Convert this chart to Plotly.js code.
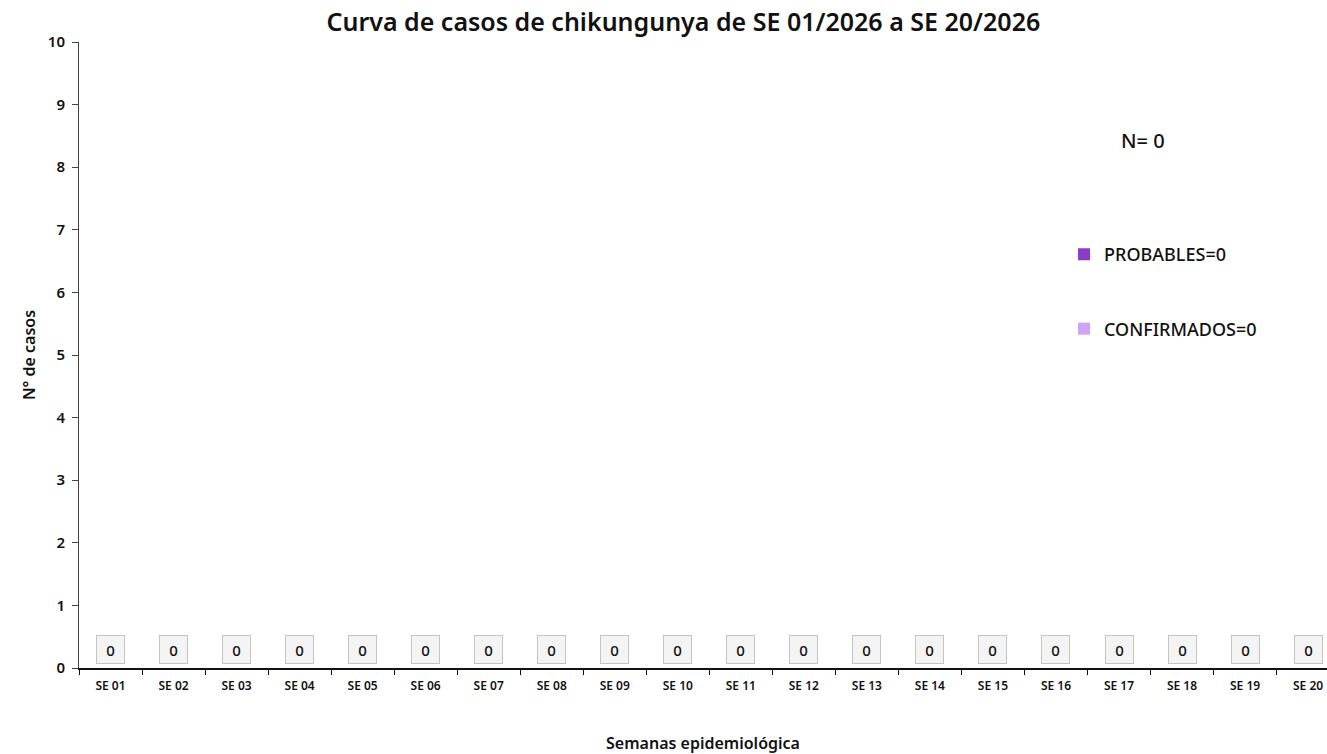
<!DOCTYPE html>
<html>
<head>
<meta charset="utf-8">
<script src="https://cdn.plot.ly/plotly-3.0.1.min.js"></script>
<style>html,body{margin:0;padding:0;background:#fff;}#chart{width:1327px;height:754px;}</style>
</head>
<body>
<div id="chart"></div>
<script>
var semanas = ["SE 01","SE 02","SE 03","SE 04","SE 05","SE 06","SE 07","SE 08","SE 09","SE 10",
               "SE 11","SE 12","SE 13","SE 14","SE 15","SE 16","SE 17","SE 18","SE 19","SE 20"];
var probables   = [0,0,0,0,0,0,0,0,0,0,0,0,0,0,0,0,0,0,0,0];
var confirmados = [0,0,0,0,0,0,0,0,0,0,0,0,0,0,0,0,0,0,0,0];
var totales = semanas.map(function(s,i){return probables[i]+confirmados[i];});
var sumP = probables.reduce(function(a,b){return a+b;},0);
var sumC = confirmados.reduce(function(a,b){return a+b;},0);
var FONT = "Noto Sans, Open Sans, sans-serif";

var traces = [
  {type:"bar", name:"PROBABLES=" + sumP, x:semanas, y:probables,
   marker:{color:"#8a3cc6"}, legendgroup:"p", hoverinfo:"skip"},
  {type:"bar", name:"CONFIRMADOS=" + sumC, x:semanas, y:confirmados,
   marker:{color:"#cfa3f7"}, legendgroup:"c", hoverinfo:"skip"}
];

var annotations = semanas.map(function(s,i){
  return {x:s, y:totales[i], xref:"x", yref:"y", text:String(totales[i]), showarrow:false,
          yshift:19, width:21, height:21, borderpad:3, bordercolor:"#c4c4c4", borderwidth:1,
          bgcolor:"#f4f4f4", font:{family:FONT, size:15, color:"#111", weight:500}};
});
annotations.push({x:0.8526, y:0.843, xref:"paper", yref:"paper", xanchor:"center", yanchor:"middle",
  text:"N= " + (sumP+sumC), showarrow:false, font:{family:FONT, size:20, color:"#111", weight:500}});

var layout = {
  width:1327, height:754,
  margin:{l:79, r:0, t:42, b:86},
  paper_bgcolor:"#fff", plot_bgcolor:"#fff",
  barmode:"stack",
  font:{family:FONT, color:"#111"},
  title:{text:"Curva de casos de chikungunya de SE 01/2026 a SE 20/2026",
         font:{family:FONT, size:25, color:"#111", weight:600}, x:0.515, xanchor:"center", y:0.971, yanchor:"middle"},
  xaxis:{type:"category", range:[-0.5,19.3], showline:true, linecolor:"#111", linewidth:2,
         ticks:"outside", ticklen:5, tickcolor:"#111", tickson:"boundaries", ticklabelstandoff:6,
         tickfont:{family:FONT, size:12, color:"#111", weight:600}, showgrid:false, zeroline:false,
         title:{text:"Semanas epidemiológica", font:{family:FONT, size:16, color:"#111", weight:600}, standoff:44}},
  yaxis:{range:[0,10], dtick:1, showline:true, linecolor:"#444", linewidth:1,
         ticks:"outside", ticklen:6, tickcolor:"#444", showgrid:false, zeroline:false, ticklabelstandoff:4,
         tickfont:{family:FONT, size:15, color:"#111", weight:600},
         title:{text:"N° de casos", font:{family:FONT, size:16, color:"#111", weight:600}, standoff:8}},
  showlegend:true,
  legend:{x:0.7893, y:0.69, xanchor:"left", yanchor:"top", traceorder:"grouped", tracegroupgap:48,
          font:{family:FONT, size:18, color:"#111", weight:500}, bgcolor:"rgba(0,0,0,0)", itemwidth:30},
  annotations:annotations
};
Plotly.newPlot("chart", traces, layout, {displayModeBar:false, staticPlot:true});
</script>
</body>
</html>
